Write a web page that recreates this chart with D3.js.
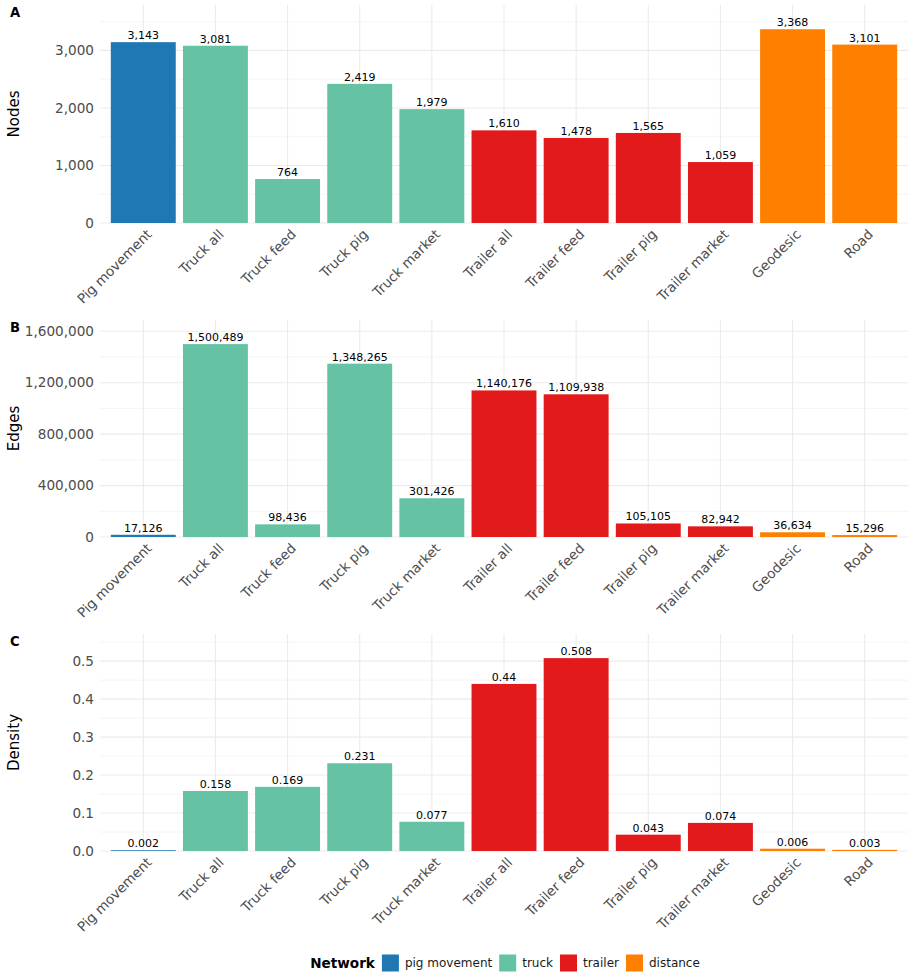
<!DOCTYPE html>
<html><head><meta charset="utf-8">
<script src="https://cdn.jsdelivr.net/npm/d3@7"></script>
<style>body{margin:0;background:#fff;}</style>
</head><body>
<svg id="chart" width="914" height="977" font-family="DejaVu Sans"></svg>
<script>
const categories = ["Pig movement","Truck all","Truck feed","Truck pig","Truck market","Trailer all","Trailer feed","Trailer pig","Trailer market","Geodesic","Road"];
const networks = ["pig movement","truck","truck","truck","truck","trailer","trailer","trailer","trailer","distance","distance"];
const nodes = [3143,3081,764,2419,1979,1610,1478,1565,1059,3368,3101];
const edges = [17126,1500489,98436,1348265,301426,1140176,1109938,105105,82942,36634,15296];
const density = [0.002,0.158,0.169,0.231,0.077,0.44,0.508,0.043,0.074,0.006,0.003];
const networkLevels = ["pig movement","truck","trailer","distance"];
const networkColors = ["#1F78B4","#66C2A5","#E31A1C","#FF7F00"];
const nodeTicks = [0,1000,2000,3000];
const edgeTicks = [0,400000,800000,1200000,1600000];
const densityTicks = [0,0.1,0.2,0.3,0.4,0.5];

const svg = d3.select("#chart");
const FONT = "DejaVu Sans";
const color = d3.scaleOrdinal().domain(networkLevels).range(networkColors);
const x = d3.scaleBand().domain(categories).range([100,908]).paddingInner(0.1).paddingOuter(0.15);
const comma = d3.format(",");

function panel(letter, title, values, ticks, top, bottom, tickFmt, labelFmt) {
  const g = svg.append("g").attr("font-family",FONT);
  const maxV = d3.max(values);
  const y = d3.scaleLinear().domain([0, maxV*1.125]).range([bottom, top]);
  const step = ticks[1]-ticks[0];
  const minor = [];
  for (let v = step/2; v < maxV*1.125; v += step) minor.push(v);
  g.selectAll(".minor").data(minor).join("line")
    .attr("x1",100).attr("x2",908).attr("y1",d=>y(d)).attr("y2",d=>y(d))
    .attr("stroke","#ebebeb").attr("stroke-width",0.55);
  g.selectAll(".major").data(ticks).join("line")
    .attr("x1",100).attr("x2",908).attr("y1",d=>y(d)).attr("y2",d=>y(d))
    .attr("stroke","#ebebeb").attr("stroke-width",1.1);
  g.selectAll(".vgrid").data(categories).join("line")
    .attr("x1",d=>x(d)+x.bandwidth()/2).attr("x2",d=>x(d)+x.bandwidth()/2)
    .attr("y1",top).attr("y2",bottom)
    .attr("stroke","#ebebeb").attr("stroke-width",1.1);
  const data = categories.map((c,i)=>({c, v:values[i], n:networks[i]}));
  g.selectAll("rect").data(data).join("rect")
    .attr("x",d=>x(d.c)).attr("width",x.bandwidth())
    .attr("y",d=>y(d.v)).attr("height",d=>y(0)-y(d.v))
    .attr("fill",d=>color(d.n));
  g.selectAll(".lab").data(data).join("text")
    .attr("x",d=>x(d.c)+x.bandwidth()/2).attr("y",d=>y(d.v)-3)
    .attr("text-anchor","middle").attr("font-size",11).attr("fill","#000")
    .text(d=>labelFmt(d.v));
  g.selectAll(".ytick").data(ticks).join("text")
    .attr("x",94).attr("y",d=>y(d)).attr("dy","0.35em")
    .attr("text-anchor","end").attr("font-size",13.6).attr("fill","#4d4d4d")
    .text(d=>tickFmt(d));
  g.selectAll(".xtick").data(categories).join("text")
    .attr("transform",d=>`translate(${x(d)+x.bandwidth()/2+2},${bottom+5}) rotate(-45)`)
    .attr("dy","0.75em")
    .attr("text-anchor","end").attr("font-size",13.6).attr("fill","#4d4d4d")
    .text(d=>d);
  g.append("text").attr("transform",`translate(19,${(top+bottom)/2}) rotate(-90)`)
    .attr("text-anchor","middle").attr("font-size",15).attr("fill","#000").text(title);
  g.append("text").attr("x",10).attr("y",top+12).attr("font-size",13.2)
    .attr("font-weight","bold").attr("fill","#000").text(letter);
}

panel("A","Nodes",nodes,nodeTicks,5,223,d=>comma(d),d=>comma(d));
panel("B","Edges",edges,edgeTicks,320,537,d=>comma(d),d=>comma(d));
panel("C","Density",density,densityTicks,634,851,d=>d3.format(".1f")(d),d=>String(d));

// legend
const lg = svg.append("g").attr("font-family",FONT);
const ly = 963;
const title = lg.append("text").attr("y",ly).attr("dy","0.35em").attr("font-size",13.6)
  .attr("font-weight","bold").text("Network");
let items = [];
let totalW = title.node().getComputedTextLength() + 7;
networkLevels.forEach((n,i)=>{
  const t = lg.append("text").attr("y",ly).attr("dy","0.35em").attr("font-size",12)
    .attr("fill","#1a1a1a").text(n);
  const w = t.node().getComputedTextLength();
  items.push({n,t,w});
  totalW += 17 + 6 + w + (i<networkLevels.length-1 ? 7 : 0);
});
let cx = 505 - totalW/2;
title.attr("x",cx);
cx += title.node().getComputedTextLength() + 7;
items.forEach((it,i)=>{
  lg.append("rect").attr("x",cx).attr("y",ly-8.5).attr("width",17).attr("height",17).attr("fill",color(it.n));
  cx += 17 + 6;
  it.t.attr("x",cx);
  cx += it.w + 7;
});
</script>
</body></html>
